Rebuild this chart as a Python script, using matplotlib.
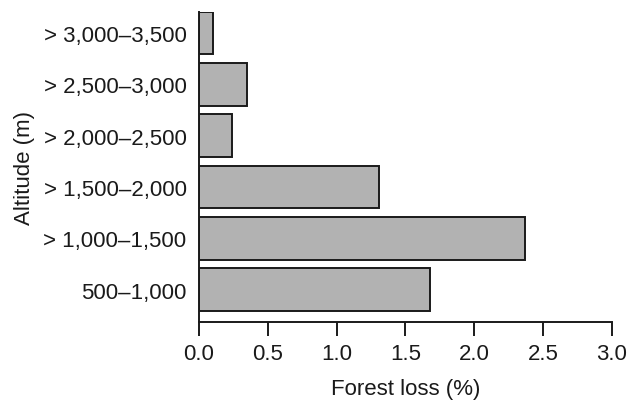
import matplotlib
matplotlib.use('Agg')
import matplotlib.pyplot as plt
import numpy as np

plt.rcParams['font.family'] = ['Liberation Sans', 'DejaVu Sans']

altitude = ['500\u20131,000', '> 1,000\u20131,500', '> 1,500\u20132,000',
            '> 2,000\u20132,500', '> 2,500\u20133,000', '> 3,000\u20133,500']
loss = [1.68, 2.37, 1.31, 0.24, 0.35, 0.10]

fig = plt.figure(figsize=(6.28, 4.02), dpi=100)
ax = fig.add_axes([0.3169, 0.1965, 0.6576, 0.7712])

y = np.arange(len(altitude))
ax.barh(y, loss, height=0.833, color='#b2b2b2', edgecolor='#1a1a1a', linewidth=1.4)

ax.set_xlim(0, 3.0)
ax.set_ylim(-0.633, 5.41)
ax.set_xticks(np.arange(0, 3.01, 0.5))
ax.set_xticklabels(['%.1f' % v for v in np.arange(0, 3.01, 0.5)])
ax.set_yticks(y)
ax.set_yticklabels(altitude)

for s in ['top', 'right']:
    ax.spines[s].set_visible(False)
ax.spines['left'].set_linewidth(1.4)
ax.spines['bottom'].set_linewidth(1.4)
ax.spines['left'].set_color('#1a1a1a')
ax.spines['bottom'].set_color('#1a1a1a')

ax.tick_params(axis='x', length=10, width=1.4, pad=5, labelsize=16, color='#1a1a1a', labelcolor='#1a1a1a')
ax.tick_params(axis='y', length=0, pad=9, labelsize=16, labelcolor='#1a1a1a')

ax.set_xlabel('Forest loss (%)', fontsize=16, color='#1a1a1a', labelpad=10.5)
ax.set_ylabel('Altitude (m)', fontsize=16, color='#1a1a1a', labelpad=6)

fig.savefig('out.png', dpi=100)
